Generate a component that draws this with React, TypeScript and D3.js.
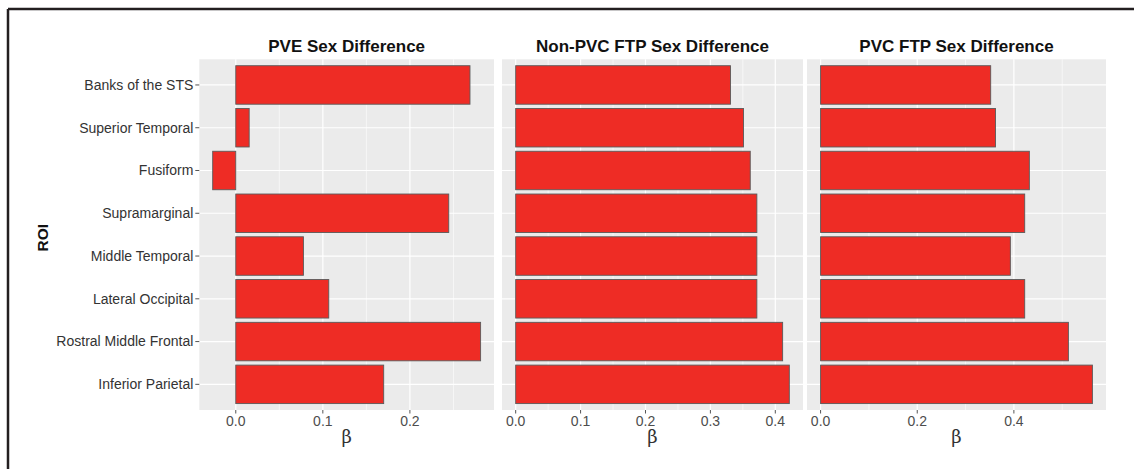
import React from "react";
import * as d3 from "d3";

const categories = [
  "Banks of the STS",
  "Superior Temporal",
  "Fusiform",
  "Supramarginal",
  "Middle Temporal",
  "Lateral Occipital",
  "Rostral Middle Frontal",
  "Inferior Parietal",
];

const pveValues = [0.269, 0.0154, -0.0265, 0.2446, 0.0777, 0.1068, 0.2812, 0.1699];
const nonPvcValues = [0.331, 0.351, 0.3614, 0.3716, 0.3716, 0.3716, 0.4113, 0.4216];
const pvcValues = [0.352, 0.362, 0.432, 0.4224, 0.3927, 0.4224, 0.5128, 0.5625];

const panelTitles = ["PVE Sex Difference", "Non-PVC FTP Sex Difference", "PVC FTP Sex Difference"];
const pveTicks = [0.0, 0.1, 0.2];
const nonPvcTicks = [0.0, 0.1, 0.2, 0.3, 0.4];
const pvcTicks = [0.0, 0.2, 0.4];

const W = 1134;
const H = 469;
const TOP = 59.3;
const BOTTOM = 410;
const panelX: [number, number][] = [
  [199.3, 494],
  [502, 803],
  [807, 1106],
];

const FILL = "#EE2C25";
const STROKE = "#5a5a5a";
const BG = "#EBEBEB";
const SANS = "'Liberation Sans', Arial, sans-serif";

function Panel({
  values,
  ticks,
  title,
  x0,
  x1,
  showY,
}: {
  values: number[];
  ticks: number[];
  title: string;
  x0: number;
  x1: number;
  showY: boolean;
}) {
  const mn = Math.min(0, d3.min(values) as number);
  const mx = Math.max(0, d3.max(values) as number);
  const pad = (mx - mn) * 0.05;
  const x = d3.scaleLinear().domain([mn - pad, mx + pad]).range([x0, x1]);
  // ggplot-like discrete scale: expand 0.6 units each side, bar width 0.9
  const y = d3
    .scalePoint<string>()
    .domain(categories)
    .range([TOP, BOTTOM])
    .padding(0.6);
  const step = y.step();
  const bw = step * 0.9;

  const stepT = ticks[1] - ticks[0];
  const minor: number[] = [];
  for (let t = ticks[0] - stepT / 2; t <= mx + pad; t += stepT) {
    if (t >= mn - pad && !ticks.some((k) => Math.abs(k - t) < 1e-9)) minor.push(t);
  }

  return (
    <g>
      <rect x={x0} y={TOP} width={x1 - x0} height={BOTTOM - TOP} fill={BG} />
      {minor.map((t) => (
        <line key={"m" + t} x1={x(t)} x2={x(t)} y1={TOP} y2={BOTTOM} stroke="#fff" strokeWidth={0.6} />
      ))}
      {ticks.map((t) => (
        <line key={"M" + t} x1={x(t)} x2={x(t)} y1={TOP} y2={BOTTOM} stroke="#fff" strokeWidth={1.2} />
      ))}
      {categories.map((c) => (
        <line key={"h" + c} x1={x0} x2={x1} y1={y(c)} y2={y(c)} stroke="#fff" strokeWidth={1.2} />
      ))}
      {values.map((v, i) => {
        const a = x(Math.min(0, v));
        const b = x(Math.max(0, v));
        const cy = y(categories[i]) as number;
        return (
          <rect
            key={"b" + i}
            x={a}
            y={cy - bw / 2}
            width={b - a}
            height={bw}
            fill={FILL}
            stroke={STROKE}
            strokeWidth={0.9}
          />
        );
      })}
      {ticks.map((t) => (
        <g key={"t" + t}>
          <line x1={x(t)} x2={x(t)} y1={BOTTOM} y2={BOTTOM + 3.5} stroke="#555" strokeWidth={1} />
          <text x={x(t)} y={425.5} textAnchor="middle" fontFamily={SANS} fontSize={14} fill="#4D4D4D">
            {d3.format(".1f")(t)}
          </text>
        </g>
      ))}
      <text
        x={(x0 + x1) / 2}
        y={443}
        textAnchor="middle"
        fontFamily="'DejaVu Serif', 'Liberation Serif', serif"
        fontSize={18}
        fill="#333"
      >
        β
      </text>
      <text
        x={(x0 + x1) / 2}
        y={52}
        textAnchor="middle"
        fontFamily={SANS}
        fontWeight="bold"
        fontSize={17}
        fill="#111"
      >
        {title}
      </text>
      {showY &&
        categories.map((c) => (
          <g key={"y" + c}>
            <line x1={x0 - 4} x2={x0} y1={y(c)} y2={y(c)} stroke="#555" strokeWidth={1} />
            <text
              x={x0 - 6}
              y={y(c)}
              dy="0.35em"
              textAnchor="end"
              fontFamily={SANS}
              fontSize={14}
              fill="#333"
            >
              {c}
            </text>
          </g>
        ))}
    </g>
  );
}

export default function App() {
  const sets = [pveValues, nonPvcValues, pvcValues];
  const tickSets = [pveTicks, nonPvcTicks, pvcTicks];
  return (
    <div style={{ position: "absolute", left: 0, top: 0 }}>
      <svg width={W} height={H} viewBox={`0 0 ${W} ${H}`} style={{ display: "block", background: "#fff" }}>
        <line x1={8} x2={W} y1={9} y2={9} stroke="#231f20" strokeWidth={2.5} />
        <line x1={8} x2={8} y1={9} y2={H} stroke="#231f20" strokeWidth={2.5} />
        {sets.map((vals, k) => (
          <Panel
            key={k}
            values={vals}
            ticks={tickSets[k]}
            title={panelTitles[k]}
            x0={panelX[k][0]}
            x1={panelX[k][1]}
            showY={k === 0}
          />
        ))}
        <text
          transform={`translate(47.5,${(TOP + BOTTOM) / 2 + 3}) rotate(-90)`}
          textAnchor="middle"
          fontFamily={SANS}
          fontWeight="bold"
          fontSize={15.5}
          fill="#111"
        >
          ROI
        </text>
      </svg>
    </div>
  );
}
